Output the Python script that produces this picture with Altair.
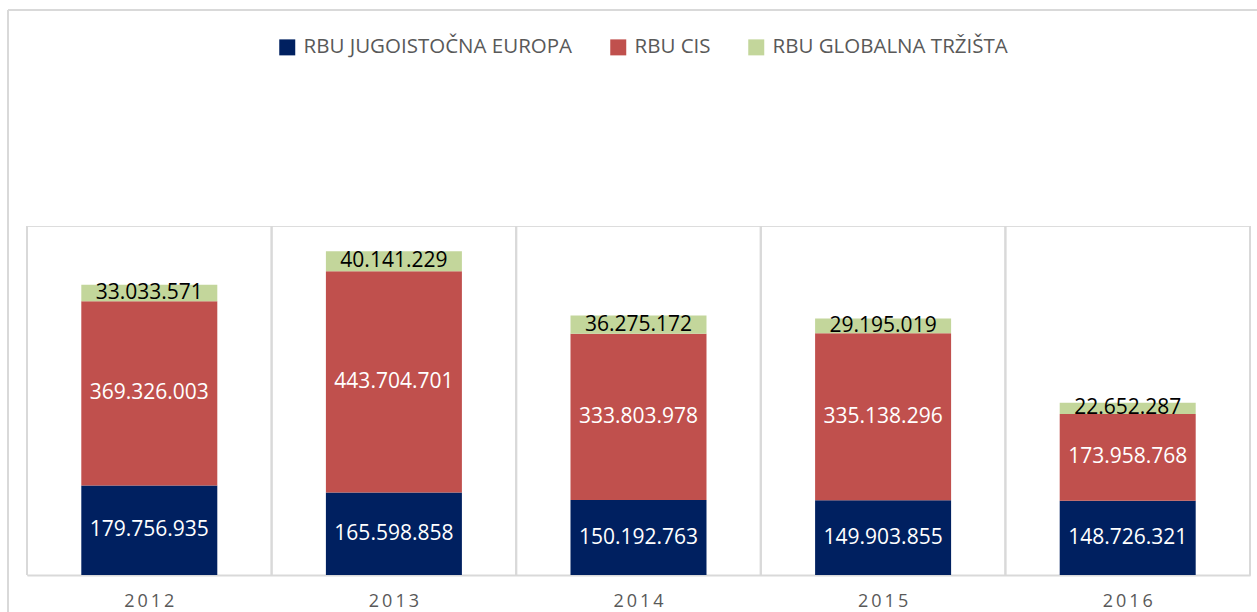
import altair as alt
import pandas as pd

years = ["2012", "2013", "2014", "2015", "2016"]
series = ["RBU JUGOISTOČNA EUROPA", "RBU CIS", "RBU GLOBALNA TRŽIŠTA"]
jugoistocna = [179756935, 165598858, 150192763, 149903855, 148726321]
cis = [369326003, 443704701, 333803978, 335138296, 173958768]
globalna = [33033571, 40141229, 36275172, 29195019, 22652287]
colors = ["#002060", "#C0504D", "#C3D69B"]
label_colors = ["white", "white", "black"]

rows = []
for i, s in enumerate(series):
    vals = [jugoistocna, cis, globalna][i]
    for y, v in zip(years, vals):
        rows.append({"year": y, "series": s, "value": v, "order": i,
                     "label": f"{v:,}".replace(",", "."), "lc": label_colors[i]})
df = pd.DataFrame(rows)

W, H = 1223, 349
FONT = "Open Sans"

x_enc = alt.X("year:N", sort=years, scale=alt.Scale(paddingInner=0, paddingOuter=0),
              axis=alt.Axis(title=None, labelAngle=0, ticks=False, grid=False,
                            bandPosition=0.5,
                            domainColor="#d9d9d9", domainWidth=2,
                            labelFont=FONT, labelFontSize=18, labelColor="#595959",
                            labelPadding=17, labelAlign="center",
                            labelExpr="join(split(datum.label, ''), '\u2009')"))
y_scale = alt.Scale(domain=[0, 700000000])

base = alt.Chart(df)

bars = base.mark_bar(width={"band": 0.556}).encode(
    x=x_enc,
    y=alt.Y("value:Q", stack="zero", scale=y_scale, axis=None),
    color=alt.Color("series:N", sort=series,
                    scale=alt.Scale(domain=series, range=colors),
                    legend=alt.Legend(title=None, orient="none", direction="horizontal",
                                      legendX=250, legendY=-189,
                                      symbolType="square", symbolSize=256,
                                      symbolStrokeWidth=0,
                                      labelFont=FONT, labelFontSize=20.5,
                                      labelColor="#595959", labelOffset=6,
                                      columnPadding=35, labelLimit=400)),
    order=alt.Order("order:Q", sort="ascending"),
)

texts = base.transform_stack(
    stack="value", groupby=["year"], as_=["v0", "v1"],
    sort=[alt.SortField("order", order="ascending")]
).transform_calculate(
    mid="(datum.v0 + datum.v1) / 2"
).mark_text(font=FONT, fontSize=21, baseline="middle").encode(
    x=alt.X("year:N", sort=years),
    y=alt.Y("mid:Q", scale=y_scale, axis=None),
    text="label:N",
    color=alt.Color("lc:N", scale=None, legend=None),
)

grid0 = alt.Chart(pd.DataFrame({"year": years})).mark_rule(
    color="#d9d9d9", strokeWidth=2).encode(
    x=alt.X("year:N", sort=years, bandPosition=0),
    y=alt.value(0), y2=alt.value(H))
grid1 = alt.Chart(pd.DataFrame({"year": years})).mark_rule(
    color="#d9d9d9", strokeWidth=2).encode(
    x=alt.X("year:N", sort=years, bandPosition=1),
    y=alt.value(0), y2=alt.value(H))

border_left = alt.Chart(pd.DataFrame({"a": [0]})).mark_rule(
    color="#d9d9d9", strokeWidth=2).encode(
    x=alt.value(-19), y=alt.value(-216), y2=alt.value(H + 40))
border_top = alt.Chart(pd.DataFrame({"a": [0]})).mark_rule(
    color="#d9d9d9", strokeWidth=2).encode(
    x=alt.value(-19), x2=alt.value(W + 10), y=alt.value(-216))

chart = alt.layer(bars, texts, grid0, grid1, border_left, border_top).properties(
    width=W, height=H,
    autosize=alt.AutoSizeParams(type="none"),
    padding={"left": 27, "top": 226, "right": 7, "bottom": 37},
).configure_view(stroke=None).configure(background="white")

chart.save("out.html", embed_options={"renderer": "svg", "actions": False})
